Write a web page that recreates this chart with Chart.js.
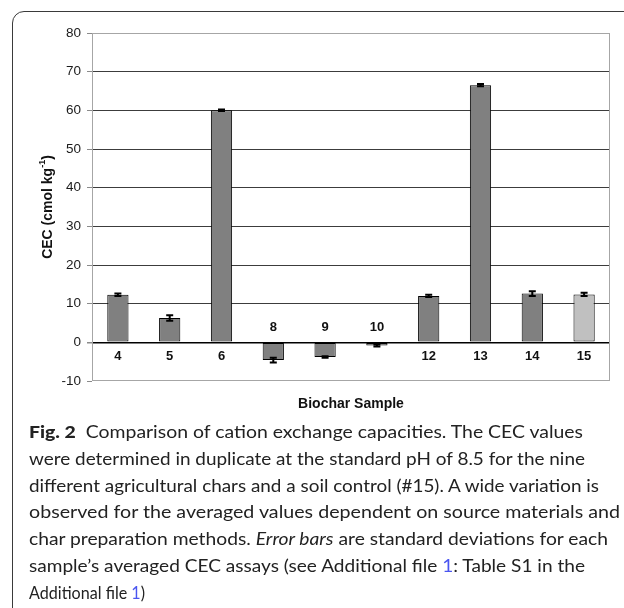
<!DOCTYPE html>
<html>
<head>
<meta charset="utf-8">
<script src="https://cdn.jsdelivr.net/npm/chart.js@4"></script>
<style>
  html, body { margin: 0; padding: 0; background: #fff; }
  body { width: 624px; height: 608px; position: relative; overflow: hidden; }
  #frame { position: absolute; left: 12px; top: 11px; width: 700px; height: 700px;
           border: 1.5px solid #3a3a3a; border-radius: 12px; }
  #chart { position: absolute; left: 0; top: 0; }
  #caption { position: absolute; left: 29px; top: 419px; font-family: Lato, "Open Sans", sans-serif;
             font-size: 17.5px; line-height: 26.8px; color: #222; }
  #caption div { white-space: nowrap; width: max-content; transform-origin: left center; }
  #caption b { font-weight: 900; }
  #caption .lnk { color: #4a55f0; }
</style>
</head>
<body>
<div id="frame"></div>
<canvas id="chart" width="624" height="420"></canvas>
<div id="caption">
  <div data-w="554"><b>Fig. 2</b>&nbsp; Comparison of cation exchange capacities. The CEC values</div>
  <div data-w="556">were determined in duplicate at the standard pH of 8.5 for the nine</div>
  <div data-w="570">different agricultural chars and a soil control (#15). A wide variation is</div>
  <div data-w="591">observed for the averaged values dependent on source materials and</div>
  <div data-w="579">char preparation methods. <i>Error bars</i> are standard deviations for each</div>
  <div data-w="556">sample’s averaged CEC assays (see Additional file <span class="lnk">1</span>: Table S1 in the</div>
  <div data-w="116">Additional file <span class="lnk">1</span>)</div>
</div>
<script>
// valores (cmol kg-1)
const samples  = ["4", "5", "6", "8", "9", "10", "12", "13", "14", "15"];
const cecMeans = [12.3, 6.3, 60.0, -4.6, -3.8, -0.8, 12.0, 66.5, 12.6, 12.4];
const cecSD    = [0.3, 0.7, 0.2, 0.6, 0.2, 0.3, 0.3, 0.3, 0.6, 0.4];
const yMin = -10, yMax = 80, yStep = 10;
const controlSample = "15"; // control de suelo, barra más clara

const $ = (id) => document.getElementById(id);
const FONT = '"Liberation Sans", Arial, sans-serif';

/* ---------- plugin: borde del área, barras de error, etiquetas y títulos ---------- */
const decorations = {
  id: "decorations",
  beforeDatasetsDraw(chart) {
    const { ctx, chartArea: a } = chart;
    ctx.save();
    ctx.strokeStyle = "#a6a6a6";
    ctx.lineWidth = 1;
    ctx.strokeRect(a.left + 0.5, a.top + 0.5, a.width - 1, a.height - 1);
    ctx.restore();
  },
  afterDatasetsDraw(chart) {
    const { ctx } = chart;
    const y = chart.scales.y;
    const meta = chart.getDatasetMeta(0);
    ctx.save();
    ctx.strokeStyle = "#000";
    ctx.lineWidth = 2;
    meta.data.forEach((bar, i) => {
      const x = bar.x;
      const hi = y.getPixelForValue(cecMeans[i] + cecSD[i]);
      const lo = y.getPixelForValue(cecMeans[i] - cecSD[i]);
      ctx.beginPath();
      ctx.moveTo(x, hi); ctx.lineTo(x, lo);
      ctx.moveTo(x - 3.5, hi); ctx.lineTo(x + 3.5, hi);
      ctx.moveTo(x - 3.5, lo); ctx.lineTo(x + 3.5, lo);
      ctx.stroke();
    });
    ctx.restore();
  },
  afterDraw(chart) {
    const { ctx, chartArea: a } = chart;
    const y = chart.scales.y;
    const zero = y.getPixelForValue(0);
    const meta = chart.getDatasetMeta(0);

    ctx.save();
    ctx.fillStyle = "#111";
    ctx.textAlign = "center";
    ctx.textBaseline = "middle";

    // etiquetas de muestra junto a la línea del cero
    ctx.font = `bold 13px ${FONT}`;
    meta.data.forEach((bar, i) => {
      const off = cecMeans[i] >= 0 ? 14 : -15;
      ctx.fillText(samples[i], bar.x, zero + off);
    });

    // título eje x
    ctx.font = `bold 14px ${FONT}`;
    ctx.fillText("Biochar Sample", (a.left + a.right) / 2, 404);

    // título eje y con superíndice
    ctx.translate(48, (a.top + a.bottom) / 2);
    ctx.rotate(-Math.PI / 2);
    const main = "CEC (cmol kg", sup = "-1", tail = ")";
    const fMain = `bold 14px ${FONT}`, fSup = `bold 9px ${FONT}`;
    ctx.font = fMain; const wMain = ctx.measureText(main).width, wTail = ctx.measureText(tail).width;
    ctx.font = fSup;  const wSup = ctx.measureText(sup).width;
    let x0 = -(wMain + wSup + wTail) / 2;
    ctx.textAlign = "left";
    ctx.font = fMain; ctx.fillText(main, x0, 0); x0 += wMain;
    ctx.font = fSup;  ctx.fillText(sup, x0, -5); x0 += wSup;
    ctx.font = fMain; ctx.fillText(tail, x0, 0);
    ctx.restore();
  }
};

function gridColor(c) {
  const v = c.tick && c.tick.value;
  if (v === 0) return "#000";
  if (v === yMin || v === yMax) return "rgba(0,0,0,0)";
  return "#3c3c3c";
}

function buildChart() {
  return new Chart($("chart").getContext("2d"), {
    type: "bar",
    data: {
      labels: samples,
      datasets: [{
        label: "CEC",
        data: cecMeans,
        backgroundColor: (c) => samples[c.dataIndex] === controlSample ? "#c0c0c0" : "#808080",
        borderColor: "#000",
        borderWidth: 1,
        borderSkipped: false,
        barPercentage: 0.41,
        categoryPercentage: 1
      }]
    },
    options: {
      responsive: false,
      animation: false,
      devicePixelRatio: 1,
      layout: { padding: { top: 33, right: 14, left: 0, bottom: 0 } },
      plugins: { legend: { display: false }, tooltip: { enabled: false } },
      scales: {
        x: {
          grid: { display: false },
          border: { display: false },
          ticks: { display: false },
          afterFit: (s) => { s.height = 420 - 381; }
        },
        y: {
          min: yMin, max: yMax,
          border: { display: false },
          grid: {
            color: gridColor,
            lineWidth: (c) => (c.tick && c.tick.value === 0 ? 1.5 : 1),
            tickColor: "#8a8a8a",
            tickLength: 5
          },
          ticks: {
            stepSize: yStep,
            padding: 6,
            color: "#1a1a1a",
            font: { family: FONT, size: 13.5 }
          },
          afterFit: (s) => { s.width = 92; }
        }
      }
    },
    plugins: [decorations]
  });
}

/* ---------- ajusta el ancho de cada línea del pie de figura ---------- */
function fitCaption() {
  document.querySelectorAll("#caption div").forEach((d) => {
    const target = Number(d.dataset.w);
    const w = d.getBoundingClientRect().width;
    if (w > 0) d.style.transform = `scaleX(${(target / w).toFixed(4)})`;
  });
}

buildChart();
document.fonts.ready.then(() => setTimeout(fitCaption, 30));
</script>
</body>
</html>
